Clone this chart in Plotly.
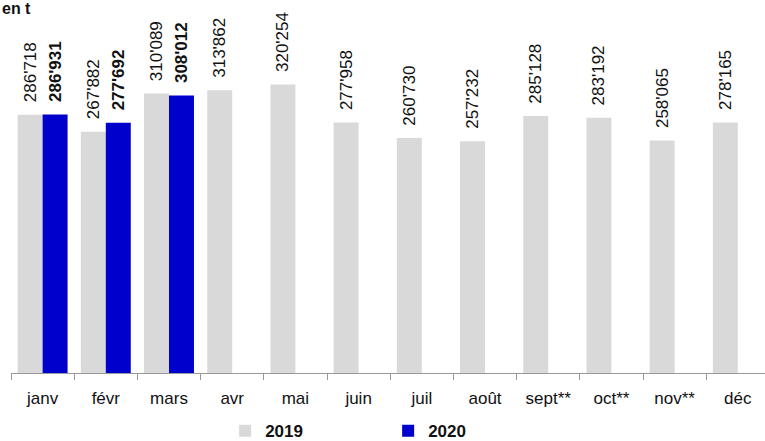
import plotly.graph_objects as go

months = ["janv", "févr", "mars", "avr", "mai", "juin", "juil", "août",
          "sept**", "oct**", "nov**", "déc"]
values_2019 = [286718, 267882, 310089, 313862, 320254, 277958, 260730,
               257232, 285128, 283192, 258065, 278165]
values_2020 = [286931, 277692, 308012, None, None, None, None, None,
               None, None, None, None]
unit_label = "en t"


def fmt(v):
    return "" if v is None else "\u00a0\u00a0" + f"{v:,}".replace(",", "'")


FONT = "Arial, 'Liberation Sans', sans-serif"

fig = go.Figure()
fig.add_trace(go.Bar(
    x=months, y=values_2019, name="2019",
    marker=dict(color="#D9D9D9", line=dict(width=0)),
    text=[fmt(v) for v in values_2019], textposition="outside",
    textangle=-90, constraintext="none", cliponaxis=False,
    textfont=dict(family=FONT, size=17, color="#111111"),
))
fig.add_trace(go.Bar(
    x=months, y=values_2020, name="2020",
    marker=dict(color="#0000CC", line=dict(width=0)),
    text=[fmt(v) for v in values_2020], textposition="outside",
    textangle=-90, constraintext="none", cliponaxis=False,
    textfont=dict(family=FONT, size=17, color="#111111", weight="bold"),
))

fig.update_layout(
    width=765, height=441,
    margin=dict(l=11, r=0, t=0, b=68, autoexpand=False),
    paper_bgcolor="white", plot_bgcolor="white",
    barmode="group", bargap=0.21, bargroupgap=0,
    font=dict(family=FONT, size=17, color="#111111"),
    showlegend=True,
    legend=dict(orientation="h", x=0.284, xanchor="left", y=-0.108,
                yanchor="top", entrywidth=118, entrywidthmode="pixels",
                font=dict(family=FONT, size=17, color="#111111", weight="bold"),
                traceorder="normal"),
    xaxis=dict(range=[-0.5, 11.43], showline=True, linecolor="#999999",
               linewidth=1, ticks="outside", tickson="boundaries",
               ticklen=6, tickcolor="#999999", showgrid=False,
               automargin=False, ticklabelstandoff=10,
               tickfont=dict(family=FONT, size=17, color="#111111")),
    yaxis=dict(range=[0, 414000], visible=False, showgrid=False,
               automargin=False),
    annotations=[dict(text="<b>" + unit_label + "</b>", xref="paper",
                      yref="paper", x=0, y=1, xanchor="left", yanchor="bottom",
                      xshift=-11, yshift=-19, showarrow=False,
                      font=dict(family=FONT, size=16, color="#111111"))],
)

fig.write_html("out.html",
               config={"displayModeBar": False},
               post_script="document.body.style.margin='0';"
                           "document.body.style.padding='0';"
                           "document.body.style.overflow='hidden';")
